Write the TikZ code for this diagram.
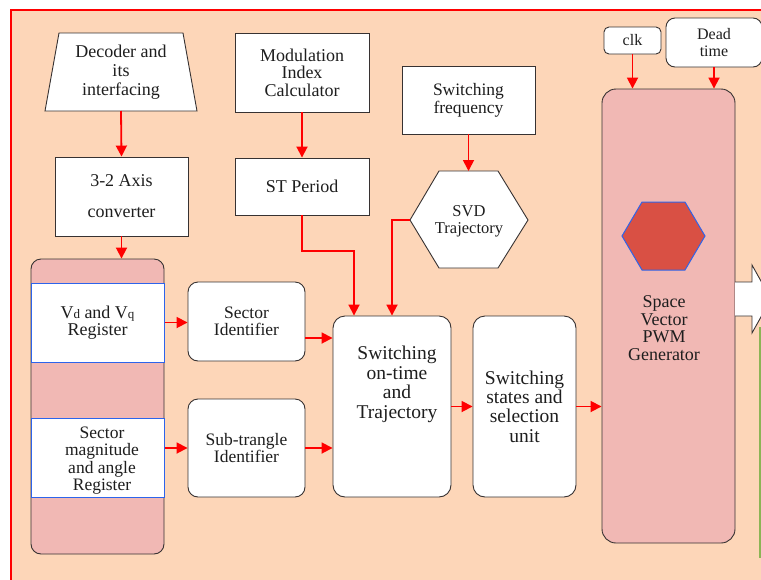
\documentclass[tikz,border=0pt]{standalone}
\usepackage{fontspec}
\setmainfont{Liberation Serif}
\usetikzlibrary{arrows.meta,calc}
\definecolor{peach}{RGB}{253,214,184}
\definecolor{pinkf}{RGB}{241,184,180}
\definecolor{hexred}{RGB}{217,80,68}
\definecolor{bluel}{RGB}{45,100,235}
\definecolor{boxc}{RGB}{55,50,50}
\definecolor{greenl}{RGB}{140,180,85}
\definecolor{txtc}{RGB}{30,30,30}
\newcommand\myfs[2]{\fontsize{#1}{#2}\selectfont}
\tikzset{
 blk/.style={draw=boxc, line width=0.9pt, fill=white, inner sep=0pt, align=center, text=txtc},
 rbox/.style={blk, rounded corners=#1},
 arr/.style={draw=red, line width=1.8pt, -{Triangle[length=11pt,width=11pt]}},
 reg/.style={draw=bluel, line width=1pt, fill=white, inner sep=0pt, align=center, text=txtc},
 lbl/.style={align=center, inner sep=0pt, text=txtc},
}
\begin{document}
\begin{tikzpicture}[x=1pt,y=-1pt]
\clip (0,0) rectangle (761,579);
\fill[white] (0,0) rectangle (761,579);
\fill[peach] (11,10) rectangle (790,600);
\draw[red, line width=2pt] (11,600) -- (11,10) -- (790,10);

% Decoder trapezoid
\draw[boxc, line width=0.9pt, fill=white] (59,33) -- (183,33) -- (197,111) -- (45,111) -- cycle;
\node[lbl, font=\myfs{18}{19}] (dec) at (121,72) {Decoder and\\its\\interfacing};
\coordinate (decb) at (121,111);

\node[blk, minimum width=133pt, minimum height=79pt, font=\myfs{18}{31}] (axis) at (121.5,196.5) {3-2 Axis\\converter};

% register column
\node[rbox=10pt, fill=pinkf, minimum width=133pt, minimum height=295pt] (regcol) at (97.5,406.5) {};
\node[reg, minimum width=133pt, minimum height=79pt, font=\myfs{18}{17}] (vdq) at (97.5,322.5) {V{\myfs{13}{13}d} and V{\myfs{13}{13}q}\\Register};
\node[reg, minimum width=133pt, minimum height=79pt] (smag) at (97.5,457.5) {};
\node[lbl, font=\myfs{17.5}{17.5}] (smagt) at (102,460.5) {Sector\\magnitude\\and angle\\Register};

\node[rbox=10pt, minimum width=117pt, minimum height=79pt, font=\myfs{17.5}{17}] (secid) at (246.5,321.5) {Sector\\Identifier};
\node[rbox=10pt, minimum width=117pt, minimum height=98pt, font=\myfs{17.5}{17}] (subid) at (246.5,448) {Sub-trangle\\Identifier};

% middle column
\node[blk, minimum width=134pt, minimum height=79pt, font=\myfs{18}{17.5}] (mod) at (302,72.5) {Modulation\\Index\\Calculator};
\node[blk, minimum width=134pt, minimum height=57pt, font=\myfs{18}{18}] (stp) at (302,186.5) {ST Period};

\node[blk, minimum width=133pt, minimum height=68pt, font=\myfs{17.5}{18}] (swf) at (468.5,100) {Switching\\frequency};

% SVD hexagon
\draw[boxc, line width=0.9pt, fill=white] (410,220) -- (439,171) -- (498,171) -- (528,220) -- (498,268) -- (439,268) -- cycle;
\node[lbl, font=\myfs{16.5}{17}] (svd) at (469,221) {SVD\\Trajectory};
\coordinate (svdW) at (410,220);
\coordinate (svdN) at (468.5,171);

\node[rbox=12pt, minimum width=118pt, minimum height=181pt] (son) at (392,406.5) {};
\node[lbl, font=\myfs{19.5}{19.5}] (sontxt) at (397,384.5) {Switching\\on-time\\and\\Trajectory};
\node[rbox=12pt, minimum width=103pt, minimum height=181pt, font=\myfs{19.5}{19.3}] (sst) at (524.5,406.5) {Switching\\states and\\selection\\unit};

% SVPWM generator
\node[rbox=14pt, fill=pinkf, minimum width=133pt, minimum height=454pt] (svpwm) at (668.5,316) {};
\draw[bluel, line width=1pt, fill=hexred] (622,236) -- (642,202) -- (685,202) -- (705,236) -- (685,270) -- (642,270) -- cycle;
\node[lbl, font=\myfs{18}{17.5}] (svtxt) at (664,328) {Space\\Vector\\PWM\\Generator};

\node[rbox=5pt, minimum width=57pt, minimum height=27pt, font=\myfs{16}{16}] (clk) at (632.5,40.5) {clk};
\node[rbox=9pt, minimum width=96pt, minimum height=49pt, font=\myfs{16}{16.5}] (dead) at (714,42.5) {Dead\\time};

% right-hand partial elements
\draw[boxc, fill=white, line width=0.9pt] (735,282) -- (752,282) -- (752,265) -- (771,299) -- (752,333) -- (752,316) -- (735,316);
\draw[greenl, line width=2pt] (760,327) -- (760,558);

% connectors
\draw[arr] (decb) -- (axis.north);
\draw[arr] (axis.south) -- (axis.south |- regcol.north);
\draw[arr] (vdq.east) -- (vdq.east -| secid.west);
\draw[arr] (subid.west -| smag.east) -- (subid.west);
\path ([yshift=-16.5pt]secid.east) coordinate (a1);
\draw[arr] (a1) -- (a1 -| son.west);
\draw[arr] (subid.east) -- (subid.east -| son.west);
\draw[arr] (son.east) -- (sst.west);
\draw[arr] (sst.east) -- (sst.east -| svpwm.west);
\draw[arr] (mod.south) -- (stp.north);
\coordinate (stk) at (354,251);
\draw[arr] (stp.south) |- (stk) -- (stk |- son.north);
\draw[arr] (svdW) -| (son.north);
\draw[arr] (swf.south) -- (svdN);
\draw[arr] (clk.south) -- (clk.south |- svpwm.north);
\draw[arr] (dead.south) -- (dead.south |- svpwm.north);
\end{tikzpicture}
\end{document}
